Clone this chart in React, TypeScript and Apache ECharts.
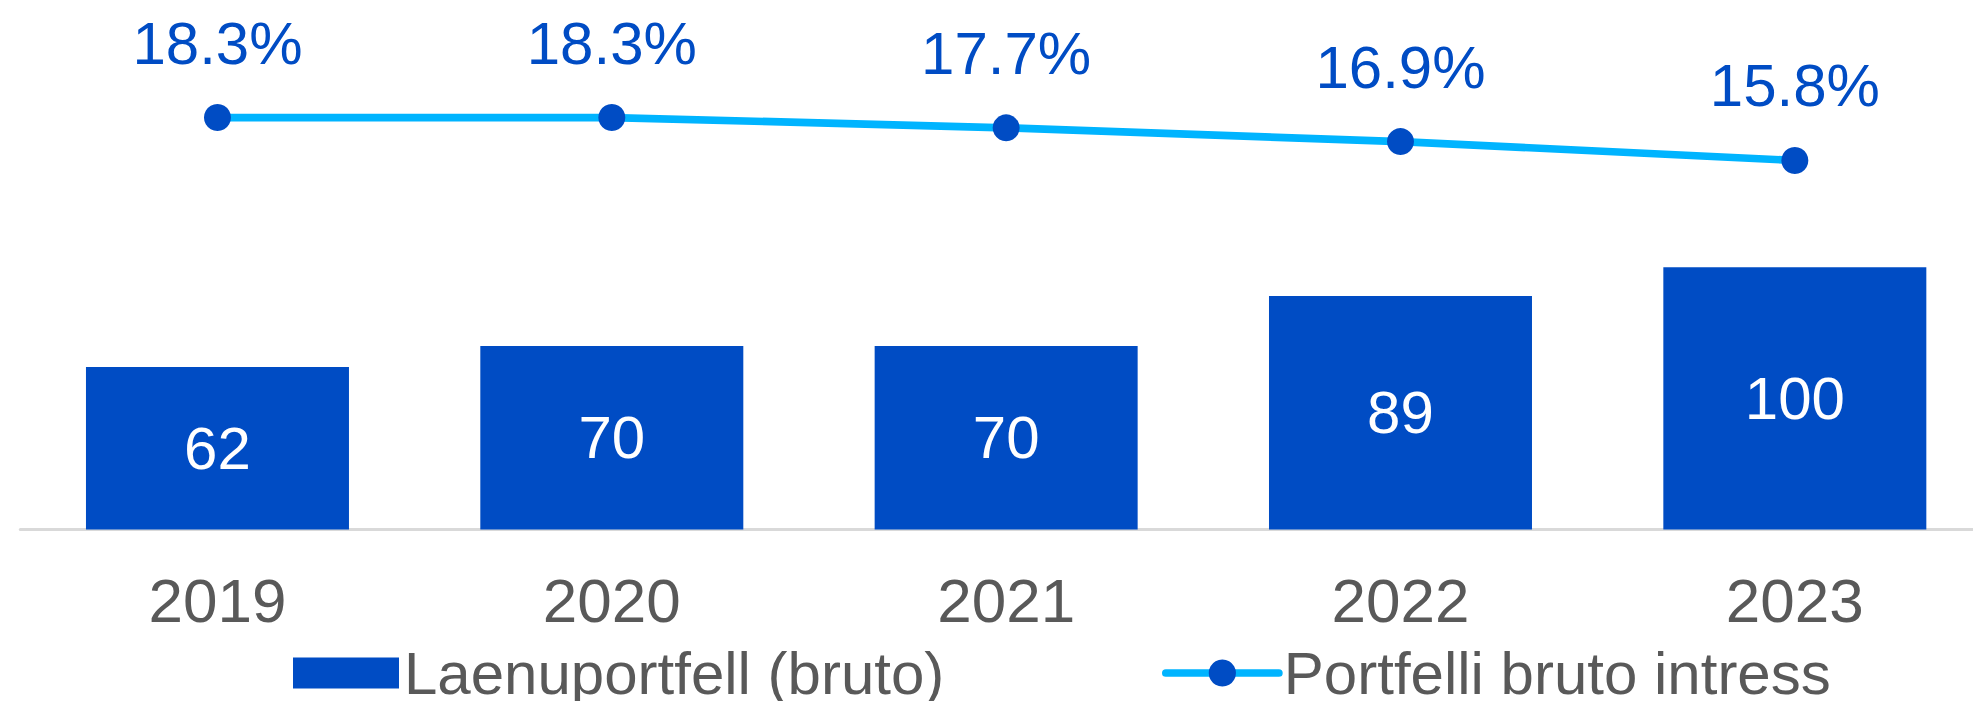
import React, { useEffect, useRef } from "react";
import * as echarts from "echarts";

const categories = ["2019", "2020", "2021", "2022", "2023"];
const portfolio = [62, 70, 70, 89, 100];
const interest = [18.3, 18.3, 17.7, 16.9, 15.8];
const barName = "Laenuportfell (bruto)";
const lineName = "Portfelli bruto intress";

const FONT = "'Liberation Sans', Arial, sans-serif";
const BLUE = "#004CC4";
const LIGHT = "#00B4FF";
const GRAY = "#595959";

export default function App() {
  const ref = useRef<HTMLDivElement>(null);
  useEffect(() => {
    if (!ref.current) return;
    const chart = echarts.init(ref.current, undefined, { renderer: "svg" });
    chart.setOption({
      animation: false,
      backgroundColor: "#ffffff",
      textStyle: { fontFamily: FONT },
      grid: { left: 20.3, right: 0, top: 5, bottom: 171.5, containLabel: false },
      xAxis: {
        type: "category",
        data: categories,
        axisTick: { show: false },
        axisLine: { show: true, lineStyle: { color: "#D9D9D9", width: 3 } },
        axisLabel: { color: GRAY, fontSize: 62, fontFamily: FONT, margin: 40 },
      },
      yAxis: [
        { type: "value", min: 0, max: 200, show: false, splitLine: { show: false } },
        { type: "value", min: -5.68, max: 24.85, show: false, splitLine: { show: false } },
      ],
      legend: [
        {
          data: [{ name: barName, icon: "rect" }],
          left: 288,
          top: 638,
          itemWidth: 106,
          itemHeight: 31,
          textStyle: { color: GRAY, fontSize: 60, lineHeight: 50, fontFamily: FONT },
          selectedMode: false,
        },
        {
          data: [lineName],
          left: 1157,
          top: 638,
          itemWidth: 113,
          itemHeight: 34,
          textStyle: { color: GRAY, fontSize: 60, lineHeight: 50, fontFamily: FONT },
          lineStyle: { width: 7.7, cap: "round", color: LIGHT },
          selectedMode: false,
        },
      ],
      series: [
        {
          name: barName,
          type: "bar",
          data: portfolio,
          barWidth: 263,
          itemStyle: { color: BLUE },
          label: {
            show: true,
            position: "inside",
            color: "#ffffff",
            fontSize: 60,
            fontFamily: FONT,
          },
        },
        {
          name: lineName,
          type: "line",
          yAxisIndex: 1,
          data: interest,
          symbol: "circle",
          symbolSize: 27,
          lineStyle: { color: LIGHT, width: 7.7, cap: "round" },
          itemStyle: { color: BLUE },
          label: {
            show: true,
            position: "top",
            distance: 31,
            color: BLUE,
            fontSize: 60,
            fontFamily: FONT,
            formatter: (p: any) => p.value.toFixed(1) + "%",
          },
        },
      ],
    });
    return () => chart.dispose();
  }, []);
  return (
    <div
      style={{ position: "fixed", left: 0, top: 0, width: 1973, height: 701, overflow: "hidden", background: "#ffffff" }}
    >
      <div ref={ref} style={{ width: 1992, height: 701 }} />
    </div>
  );
}
